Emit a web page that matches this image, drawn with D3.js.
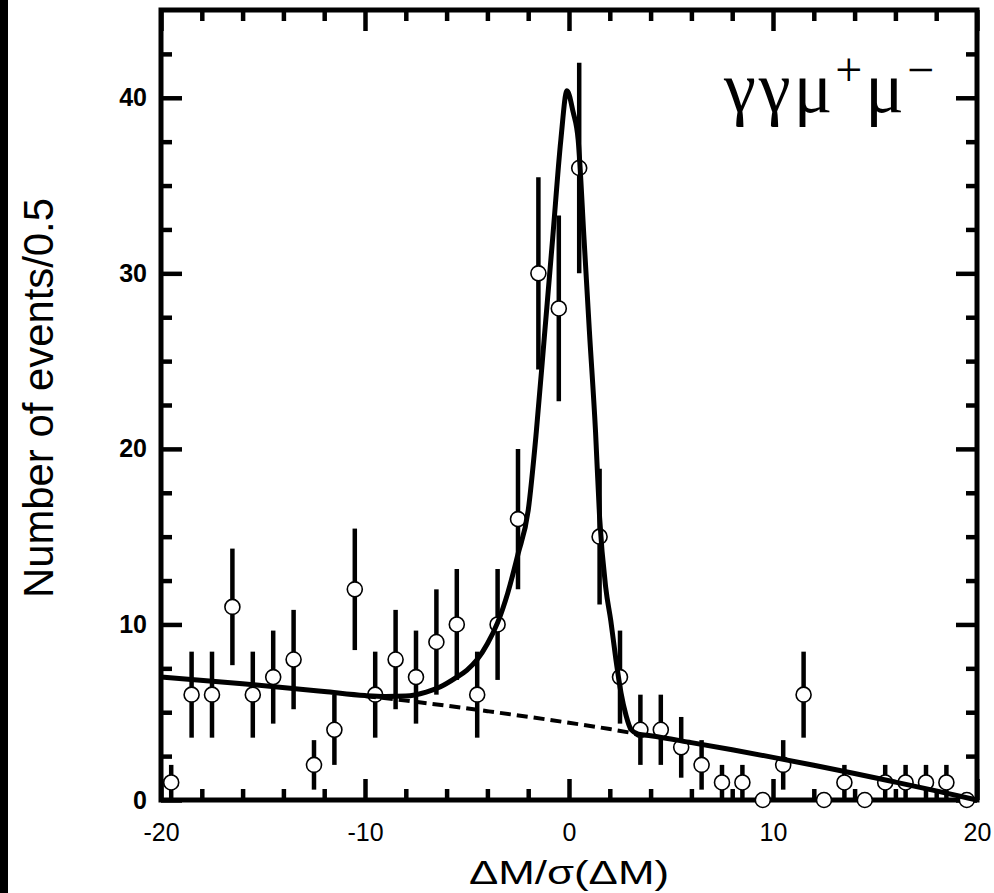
<!DOCTYPE html>
<html>
<head>
<meta charset="utf-8">
<script src="https://cdn.jsdelivr.net/npm/d3@7"></script>
<style>
body { margin: 0; background: #fff; }
svg { display: block; }
</style>
</head>
<body>
<svg class="chart"></svg>
<script>
// bin centres (dM / sigma), counts per bin and their errors
var binX = [-19.5,-18.5,-17.5,-16.5,-15.5,-14.5,-13.5,-12.5,-11.5,-10.5,
            -9.5,-8.5,-7.5,-6.5,-5.5,-4.5,-3.5,-2.5,-1.5,-0.5,
            0.5,1.5,2.5,3.5,4.5,5.5,6.5,7.5,8.5,9.5,
            10.5,11.5,12.5,13.5,14.5,15.5,16.5,17.5,18.5,19.5];
var counts = [1,6,6,11,6,7,8,2,4,12,
              6,8,7,9,10,6,10,16,30,28,
              36,15,7,4,4,3,2,1,1,0,
              2,6,0,1,0,1,1,1,1,0];
var errs = [1,2.45,2.45,3.32,2.45,2.65,2.83,1.41,2,3.46,
            2.45,2.83,2.65,3,3.16,2.45,3.16,4,5.48,5.29,
            6,3.87,2.65,2,2,1.73,1.41,1,1,0,
            1.41,2.45,0,1,0,1,1,1,1,0];

// total fit (signal + background)
var fitX = [-20,-16,-12,-10,-9,-8,-7,-6.3,-5.5,-5,-4.5,-4,-3.5,-3,-2.5,-2,-1.6,-1.2,-0.8,-0.4,-0.1,
            0.2,0.45,0.74,1.0,1.3,1.5,1.8,2.05,2.3,2.55,2.8,3.05,3.4,4,6,8,10,12,14,16,18,20];
var fitY = [7.0,6.62,6.18,5.95,5.9,5.92,6.15,6.45,7.0,7.4,8.0,8.9,10.1,11.8,14.0,16.5,21,26.5,32,37.6,40.4,
            39.2,37.6,31.9,26.7,21,16.1,12.1,10.2,8.0,6.1,4.8,4.0,3.75,3.66,3.27,2.86,2.43,1.98,1.51,1.02,0.52,0.0];

// background only (dashed under the peak)
var bgX = [-10,-8,-6,-4,-2,0,2,3.4];
var bgY = [5.93,5.66,5.37,5.06,4.74,4.40,4.04,3.75];

var xMajor = [-20,-10,0,10,20];
var xMinor = [-18,-16,-14,-12,-8,-6,-4,-2,2,4,6,8,12,14,16,18];
var yMajor = [0,10,20,30,40];
var yMinor = [2.5,5,7.5,12.5,15,17.5,22.5,25,27.5,32.5,35,37.5,42.5];

var width = 994;
var height = 893;

var chart = d3.select(".chart").attr("width", width).attr("height", height);

chart.append("rect").attr("x", 0).attr("y", 0).attr("width", width).attr("height", height).attr("fill", "#fff");
// black strip on the left edge of the scan
chart.append("rect").attr("x", 0).attr("y", 0).attr("width", 8).attr("height", height).attr("fill", "#000");

var x = d3.scaleLinear().domain([-20, 20]).range([161, 977]);
var y = d3.scaleLinear().domain([0, 45]).range([800, 10]);

function styleAxis(g) {
  g.select(".domain").remove();
  g.selectAll(".tick line").style("stroke", "#000").style("stroke-width", "4.5px");
}

// major + minor ticks on all four sides, pointing inward
chart.append("g").attr("transform", "translate(0,800)")
  .call(d3.axisBottom(x).tickValues(xMajor).tickSize(-21).tickPadding(23).tickFormat(function(d) { return String(d); }))
  .call(styleAxis)
  .selectAll("text").attr("font-family", "Liberation Sans, Arial, sans-serif").attr("font-size", 25).attr("fill", "#000");
chart.append("g").attr("transform", "translate(0,800)")
  .call(d3.axisBottom(x).tickValues(xMinor).tickSize(-11).tickFormat(""))
  .call(styleAxis);
chart.append("g").attr("transform", "translate(0,10)")
  .call(d3.axisTop(x).tickValues(xMajor).tickSize(-21).tickFormat(""))
  .call(styleAxis);
chart.append("g").attr("transform", "translate(0,10)")
  .call(d3.axisTop(x).tickValues(xMinor).tickSize(-11).tickFormat(""))
  .call(styleAxis);

chart.append("g").attr("transform", "translate(161,0)")
  .call(d3.axisLeft(y).tickValues(yMajor).tickSize(-21).tickPadding(14).tickFormat(function(d) { return String(d); }))
  .call(styleAxis)
  .selectAll("text").attr("font-family", "Liberation Sans, Arial, sans-serif").attr("font-size", 25)
  .attr("font-weight", "bold").attr("fill", "#000");
chart.append("g").attr("transform", "translate(161,0)")
  .call(d3.axisLeft(y).tickValues(yMinor).tickSize(-11).tickFormat(""))
  .call(styleAxis);
chart.append("g").attr("transform", "translate(977,0)")
  .call(d3.axisRight(y).tickValues(yMajor).tickSize(-21).tickFormat(""))
  .call(styleAxis);
chart.append("g").attr("transform", "translate(977,0)")
  .call(d3.axisRight(y).tickValues(yMinor).tickSize(-11).tickFormat(""))
  .call(styleAxis);

// frame
chart.append("rect")
  .attr("x", x(-20)).attr("y", y(45))
  .attr("width", x(20) - x(-20)).attr("height", y(0) - y(45))
  .attr("fill", "none").attr("stroke", "#000").attr("stroke-width", 5);

// error bars
var pts = binX.map(function(d, i) { return {x: d, n: counts[i], e: errs[i]}; });
chart.append("g").selectAll("line")
  .data(pts.filter(function(d) { return d.e > 0; }))
  .enter().append("line")
  .attr("x1", function(d) { return x(d.x); })
  .attr("x2", function(d) { return x(d.x); })
  .attr("y1", function(d) { return y(Math.max(0, d.n - d.e)); })
  .attr("y2", function(d) { return y(d.n + d.e); })
  .attr("stroke", "#000").attr("stroke-width", 4.5);

// markers
chart.append("g").selectAll("circle")
  .data(pts)
  .enter().append("circle")
  .attr("cx", function(d) { return x(d.x); })
  .attr("cy", function(d) { return y(d.n); })
  .attr("r", 7.5)
  .attr("fill", "#fff").attr("stroke", "#000").attr("stroke-width", 1.6);

// background (dashed) and total fit (solid)
var line = d3.line()
  .x(function(d) { return x(d[0]); })
  .y(function(d) { return y(d[1]); })
  .curve(d3.curveMonotoneX);

chart.append("path")
  .datum(bgX.map(function(d, i) { return [d, bgY[i]]; }))
  .attr("d", line)
  .attr("fill", "none").attr("stroke", "#000").attr("stroke-width", 4)
  .attr("stroke-dasharray", "11,6");

chart.append("path")
  .datum(fitX.map(function(d, i) { return [d, fitY[i]]; }))
  .attr("d", line)
  .attr("fill", "none").attr("stroke", "#000").attr("stroke-width", 5)
  .attr("stroke-linejoin", "round");

// axis titles
chart.append("text")
  .attr("transform", "translate(53,398) rotate(-90)")
  .attr("text-anchor", "middle")
  .attr("font-family", "Liberation Sans, Arial, sans-serif")
  .attr("font-size", 42)
  .attr("textLength", 400)
  .attr("lengthAdjust", "spacingAndGlyphs")
  .attr("fill", "#000")
  .text("Number of events/0.5");

chart.append("text")
  .attr("x", 569)
  .attr("y", 884)
  .attr("text-anchor", "middle")
  .attr("font-family", "Liberation Sans, Arial, sans-serif")
  .attr("font-size", 34)
  .attr("textLength", 200)
  .attr("lengthAdjust", "spacingAndGlyphs")
  .attr("fill", "#000")
  .text("ΔM/σ(ΔM)");

// channel label
var lab = chart.append("text")
  .attr("x", 724)
  .attr("y", 112)
  .attr("font-family", "Liberation Serif, Times New Roman, serif")
  .attr("font-size", 72)
  .attr("letter-spacing", 3)
  .attr("fill", "#000");
lab.append("tspan").text("γγμ");
lab.append("tspan").attr("dy", -26).attr("font-size", 48).text("+");
lab.append("tspan").attr("dy", 26).text("μ");
lab.append("tspan").attr("dy", -26).attr("font-size", 48).text("−");
</script>
</body>
</html>
